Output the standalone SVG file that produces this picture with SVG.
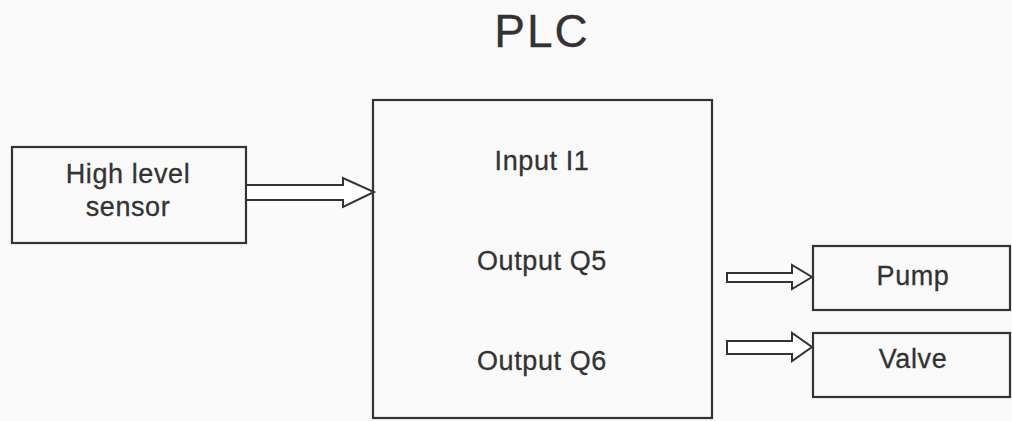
<svg xmlns="http://www.w3.org/2000/svg" width="1012" height="421" viewBox="0 0 1012 421">
<style>
.box{fill:none;stroke:#333;stroke-width:2.2}
.arr{fill:#fff;stroke:#333;stroke-width:2;stroke-linejoin:miter}
text{font-family:"Liberation Sans",Arial,sans-serif;fill:#333;text-anchor:middle;stroke:#333;stroke-width:0.3}
.t{font-size:27px;letter-spacing:0.6px}
</style>
<rect width="1012" height="421" fill="#fafafa"/>
<text x="542" y="47" font-size="46" letter-spacing="2">PLC</text>
<g id="sensor">
<rect class="box" x="12" y="147" width="234" height="96"/>
<text class="t" x="128" y="183">High level</text>
<text class="t" x="128" y="216">sensor</text>
</g>
<g id="plc">
<rect class="box" x="373" y="100" width="339" height="318"/>
<text class="t" x="542" y="170">Input I1</text>
<text class="t" x="542" y="270">Output Q5</text>
<text class="t" x="542" y="370">Output Q6</text>
</g>
<g id="pump">
<rect class="box" x="813" y="246" width="197" height="64"/>
<text class="t" x="913" y="285">Pump</text>
</g>
<g id="valve">
<rect class="box" x="813" y="333" width="197" height="64"/>
<text class="t" x="913" y="368">Valve</text>
</g>
<g id="connectors">
<path class="arr" d="M246,185 H343 V178 L374,192 L343,207 V200 H246 Z"/>
<path class="arr" d="M727,273 H792 V265 L812,277 L792,289 V282 H727 Z"/>
<path class="arr" d="M727,341 H792 V333 L812,347 L792,361 V354 H727 Z"/>
</g>
</svg>
